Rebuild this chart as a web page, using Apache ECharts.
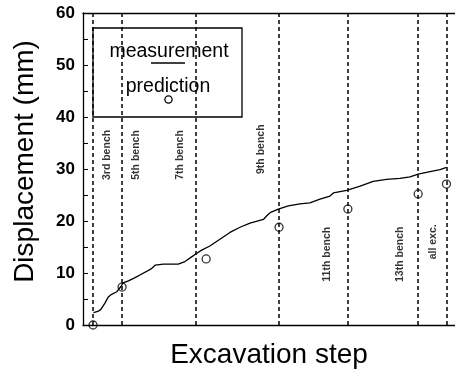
<!DOCTYPE html>
<html>
<head>
<meta charset="utf-8">
<script src="https://cdn.jsdelivr.net/npm/echarts@6/dist/echarts.min.js"></script>
<style>
  html, body { margin: 0; padding: 0; background: #fff; }
  #chart { width: 455px; height: 376px; }
</style>
</head>
<body>
<div id="chart"></div>
<script>
  // 开挖步 (x 为相对步数 0-100), 位移 mm
  var measuredStep = [2.8, 4.0, 4.8, 5.9, 6.8, 7.7, 9.1, 10.2, 10.8, 12.2, 14.0, 15.8, 17.1, 18.5, 19.4, 21.6,
    25.6, 27.4, 29.2, 30.4, 31.9, 34.1, 36.8, 39.5, 42.2, 44.9, 48.5, 49.4, 50.3, 52.5, 55.2, 58.3,
    61.0, 63.7, 66.4, 67.3, 70.9, 74.5, 78.0, 81.6, 85.2, 87.9, 90.1, 93.3, 96.0, 97.7];
  var measuredDisp = [2.4, 2.6, 3.0, 4.2, 5.4, 5.9, 6.4, 7.4, 8.1, 8.5, 9.1, 9.8, 10.3, 10.9, 11.5, 11.7,
    11.7, 12.2, 13.1, 13.7, 14.4, 15.2, 16.5, 17.8, 18.8, 19.6, 20.3, 21.0, 21.6, 22.3, 22.9, 23.3,
    23.5, 24.2, 24.8, 25.4, 25.9, 26.7, 27.6, 28.0, 28.2, 28.5, 29.0, 29.5, 29.9, 30.3];

  var predStep = [2.7, 10.5, 33.1, 52.7, 71.2, 90.1, 97.7];
  var predDisp = [0, 7.3, 12.7, 18.8, 22.3, 25.2, 27.1];

  var benchStep = [2.7, 10.5, 30.4, 52.7, 71.2, 90.1, 97.8];

  var benchNames = ['3rd bench', '5th bench', '7th bench', '9th bench', '11th bench', '13th bench', 'all exc.'];
  var benchLabelX = [6.5, 14.3, 26.2, 47.8, 65.6, 85.2, 94.2];
  var benchLabelY = [32.7, 32.7, 32.7, 33.8, 13.6, 13.6, 16.0];

  var yTicks = [0, 10, 20, 30, 40, 50, 60];

  var font = 'Liberation Sans, Arial, Helvetica, sans-serif';

  var chart = echarts.init(document.getElementById('chart'));

  var measured = measuredStep.map(function (x, i) { return [x, measuredDisp[i]]; });
  var predicted = predStep.map(function (x, i) { return [x, predDisp[i]]; });
  var labels = benchNames.map(function (n, i) { return { name: n, value: [benchLabelX[i], benchLabelY[i]] }; });

  chart.setOption({
    animation: false,
    backgroundColor: '#fff',
    textStyle: { fontFamily: font, color: '#000' },
    grid: { left: 83, right: 0, top: 13, bottom: 51 },
    xAxis: [
      {
        type: 'value', min: 0, max: 100, position: 'bottom',
        name: 'Excavation step', nameLocation: 'middle', nameGap: 16,
        nameTextStyle: { fontSize: 28, color: '#000', fontFamily: font },
        axisLine: { show: true, lineStyle: { color: '#000', width: 1.3 } },
        axisTick: { show: false }, axisLabel: { show: false }, splitLine: { show: false }
      },
      {
        type: 'value', min: 0, max: 100, position: 'top',
        axisLine: { show: true, lineStyle: { color: '#000', width: 1.3 } },
        axisTick: { show: false }, axisLabel: { show: false }, splitLine: { show: false }
      }
    ],
    yAxis: {
      type: 'value', min: yTicks[0], max: yTicks[yTicks.length - 1], interval: 10,
      name: 'Displacement (mm)', nameLocation: 'middle', nameGap: 44,
      nameTextStyle: { fontSize: 28, color: '#000', fontFamily: font, padding: [0, 0, 0, 15] },
      axisLine: { show: true, lineStyle: { color: '#000', width: 1.3 } },
      axisTick: { show: true, inside: true, length: 5, lineStyle: { color: '#000' } },
      minorTick: { show: true, splitNumber: 2, length: 5, lineStyle: { color: '#000' } },
      axisLabel: { margin: 8, fontSize: 17, fontWeight: 'bold', color: '#000', fontFamily: font },
      splitLine: { show: false }
    },
    series: [
      {
        name: 'bench', type: 'line', data: [], silent: true,
        markLine: {
          symbol: 'none', silent: true, label: { show: false },
          lineStyle: { color: '#000', type: [4, 3], width: 1.5 },
          data: benchStep.map(function (x) { return { xAxis: x }; })
        }
      },
      {
        name: 'measurement', type: 'line', data: measured, symbol: 'none',
        lineStyle: { color: '#000', width: 1.3 }, z: 3
      },
      {
        name: 'prediction', type: 'scatter', data: predicted, symbol: 'circle', symbolSize: 8,
        itemStyle: { color: 'rgba(0,0,0,0)', borderColor: '#000', borderWidth: 1.3 }, z: 4
      },
      {
        name: 'labels', type: 'scatter', data: labels, symbolSize: 1,
        itemStyle: { color: 'rgba(0,0,0,0)' },
        label: {
          show: true, position: 'inside', rotate: 90, formatter: '{b}',
          fontSize: 10.5, fontWeight: 'bold', color: '#000', fontFamily: font
        }
      }
    ],
    graphic: [
      {
        type: 'group', z: 100, children: [
          { type: 'rect', shape: { x: 93, y: 28, width: 149, height: 89 },
            style: { fill: '#fff', stroke: '#000', lineWidth: 1.3 } },
          { type: 'text', x: 169, y: 52,
            style: { text: 'measurement', fontSize: 19.5, fontFamily: font, fill: '#000', align: 'center', verticalAlign: 'middle' } },
          { type: 'line', shape: { x1: 151, y1: 63, x2: 185, y2: 63 }, style: { stroke: '#000', lineWidth: 1.3 } },
          { type: 'text', x: 168, y: 87,
            style: { text: 'prediction', fontSize: 19.5, fontFamily: font, fill: '#000', align: 'center', verticalAlign: 'middle' } },
          { type: 'circle', shape: { cx: 168.5, cy: 99.5, r: 3.6 }, style: { fill: 'none', stroke: '#000', lineWidth: 1.3 } }
        ]
      }
    ]
  });
</script>
</body>
</html>
